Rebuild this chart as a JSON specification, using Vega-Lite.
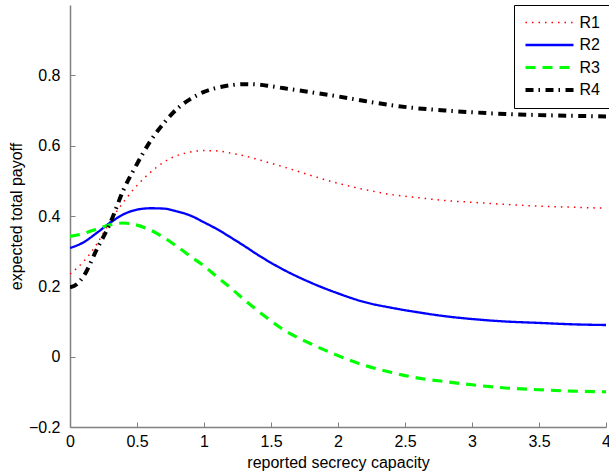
{
  "$schema": "https://vega.github.io/schema/vega-lite/v6.json",
  "width": 536,
  "height": 422,
  "autosize": "none",
  "padding": {"left": 70, "top": 5, "right": 3, "bottom": 48},
  "background": "white",
  "config": {
    "view": {"stroke": null},
    "font": "Liberation Sans",
    "axis": {
      "grid": false,
      "domainColor": "#808080",
      "tickColor": "#808080",
      "domainWidth": 1.5,
      "tickWidth": 1,
      "tickSize": -5,
      "labelColor": "black",
      "labelFontSize": 16,
      "titleFontSize": 16,
      "titleFontWeight": "normal",
      "titleColor": "black",
      "labelFont": "Liberation Sans",
      "titleFont": "Liberation Sans"
    }
  },
  "data": {
    "values": [
      {"s": "R1", "x": 0, "y": 0.235}, {"s": "R1", "x": 0.1, "y": 0.27}, {"s": "R1", "x": 0.2, "y": 0.32}, {"s": "R1", "x": 0.3, "y": 0.385}, {"s": "R1", "x": 0.4, "y": 0.44}, {"s": "R1", "x": 0.5, "y": 0.487}, {"s": "R1", "x": 0.6, "y": 0.524}, {"s": "R1", "x": 0.7, "y": 0.553}, {"s": "R1", "x": 0.8, "y": 0.572}, {"s": "R1", "x": 0.9, "y": 0.582}, {"s": "R1", "x": 1.0, "y": 0.586}, {"s": "R1", "x": 1.1, "y": 0.585}, {"s": "R1", "x": 1.2, "y": 0.579}, {"s": "R1", "x": 1.3, "y": 0.571}, {"s": "R1", "x": 1.4, "y": 0.561}, {"s": "R1", "x": 1.5, "y": 0.55}, {"s": "R1", "x": 1.6, "y": 0.539}, {"s": "R1", "x": 1.8, "y": 0.515}, {"s": "R1", "x": 2.0, "y": 0.493}, {"s": "R1", "x": 2.2, "y": 0.475}, {"s": "R1", "x": 2.4, "y": 0.461}, {"s": "R1", "x": 2.6, "y": 0.452}, {"s": "R1", "x": 2.8, "y": 0.444}, {"s": "R1", "x": 3.0, "y": 0.439}, {"s": "R1", "x": 3.25, "y": 0.433}, {"s": "R1", "x": 3.5, "y": 0.428}, {"s": "R1", "x": 3.75, "y": 0.425}, {"s": "R1", "x": 4.0, "y": 0.422},
      {"s": "R2", "x": 0, "y": 0.309}, {"s": "R2", "x": 0.1, "y": 0.325}, {"s": "R2", "x": 0.2, "y": 0.352}, {"s": "R2", "x": 0.3, "y": 0.381}, {"s": "R2", "x": 0.4, "y": 0.405}, {"s": "R2", "x": 0.5, "y": 0.418}, {"s": "R2", "x": 0.6, "y": 0.422}, {"s": "R2", "x": 0.7, "y": 0.421}, {"s": "R2", "x": 0.8, "y": 0.413}, {"s": "R2", "x": 0.9, "y": 0.401}, {"s": "R2", "x": 1.0, "y": 0.382}, {"s": "R2", "x": 1.1, "y": 0.362}, {"s": "R2", "x": 1.2, "y": 0.339}, {"s": "R2", "x": 1.3, "y": 0.315}, {"s": "R2", "x": 1.4, "y": 0.29}, {"s": "R2", "x": 1.5, "y": 0.267}, {"s": "R2", "x": 1.6, "y": 0.246}, {"s": "R2", "x": 1.8, "y": 0.21}, {"s": "R2", "x": 2.0, "y": 0.18}, {"s": "R2", "x": 2.2, "y": 0.155}, {"s": "R2", "x": 2.4, "y": 0.139}, {"s": "R2", "x": 2.6, "y": 0.126}, {"s": "R2", "x": 2.8, "y": 0.115}, {"s": "R2", "x": 3.0, "y": 0.107}, {"s": "R2", "x": 3.25, "y": 0.1}, {"s": "R2", "x": 3.5, "y": 0.096}, {"s": "R2", "x": 3.75, "y": 0.092}, {"s": "R2", "x": 4.0, "y": 0.09},
      {"s": "R3", "x": 0, "y": 0.342}, {"s": "R3", "x": 0.1, "y": 0.35}, {"s": "R3", "x": 0.2, "y": 0.363}, {"s": "R3", "x": 0.3, "y": 0.375}, {"s": "R3", "x": 0.4, "y": 0.38}, {"s": "R3", "x": 0.5, "y": 0.374}, {"s": "R3", "x": 0.6, "y": 0.36}, {"s": "R3", "x": 0.7, "y": 0.339}, {"s": "R3", "x": 0.8, "y": 0.313}, {"s": "R3", "x": 0.9, "y": 0.285}, {"s": "R3", "x": 1.0, "y": 0.258}, {"s": "R3", "x": 1.1, "y": 0.226}, {"s": "R3", "x": 1.2, "y": 0.195}, {"s": "R3", "x": 1.3, "y": 0.162}, {"s": "R3", "x": 1.4, "y": 0.131}, {"s": "R3", "x": 1.5, "y": 0.102}, {"s": "R3", "x": 1.6, "y": 0.075}, {"s": "R3", "x": 1.8, "y": 0.036}, {"s": "R3", "x": 2.0, "y": 0.003}, {"s": "R3", "x": 2.2, "y": -0.025}, {"s": "R3", "x": 2.4, "y": -0.045}, {"s": "R3", "x": 2.6, "y": -0.061}, {"s": "R3", "x": 2.8, "y": -0.071}, {"s": "R3", "x": 3.0, "y": -0.08}, {"s": "R3", "x": 3.25, "y": -0.089}, {"s": "R3", "x": 3.5, "y": -0.094}, {"s": "R3", "x": 3.75, "y": -0.098}, {"s": "R3", "x": 4.0, "y": -0.1},
      {"s": "R4", "x": 0, "y": 0.197}, {"s": "R4", "x": 0.05, "y": 0.206}, {"s": "R4", "x": 0.1, "y": 0.228}, {"s": "R4", "x": 0.2, "y": 0.305}, {"s": "R4", "x": 0.3, "y": 0.38}, {"s": "R4", "x": 0.4, "y": 0.475}, {"s": "R4", "x": 0.5, "y": 0.548}, {"s": "R4", "x": 0.6, "y": 0.613}, {"s": "R4", "x": 0.7, "y": 0.664}, {"s": "R4", "x": 0.8, "y": 0.705}, {"s": "R4", "x": 0.9, "y": 0.733}, {"s": "R4", "x": 1.0, "y": 0.753}, {"s": "R4", "x": 1.1, "y": 0.765}, {"s": "R4", "x": 1.2, "y": 0.772}, {"s": "R4", "x": 1.3, "y": 0.775}, {"s": "R4", "x": 1.4, "y": 0.774}, {"s": "R4", "x": 1.5, "y": 0.769}, {"s": "R4", "x": 1.6, "y": 0.763}, {"s": "R4", "x": 1.8, "y": 0.752}, {"s": "R4", "x": 2.0, "y": 0.74}, {"s": "R4", "x": 2.2, "y": 0.727}, {"s": "R4", "x": 2.4, "y": 0.715}, {"s": "R4", "x": 2.6, "y": 0.706}, {"s": "R4", "x": 2.8, "y": 0.7}, {"s": "R4", "x": 3.0, "y": 0.695}, {"s": "R4", "x": 3.25, "y": 0.69}, {"s": "R4", "x": 3.5, "y": 0.687}, {"s": "R4", "x": 3.75, "y": 0.685}, {"s": "R4", "x": 4.0, "y": 0.683}
    ]
  },
  "mark": {"type": "line", "interpolate": "monotone", "clip": true},
  "encoding": {
    "x": {
      "field": "x", "type": "quantitative",
      "scale": {"domain": [0, 4], "nice": false, "zero": false},
      "axis": {"values": [0, 0.5, 1, 1.5, 2, 2.5, 3, 3.5, 4], "format": "~g", "labelPadding": 11, "title": "reported secrecy capacity", "titlePadding": 5, "labelFlush": false}
    },
    "y": {
      "field": "y", "type": "quantitative",
      "scale": {"domain": [-0.2, 1.0], "nice": false, "zero": false},
      "axis": {"values": [-0.2, 0, 0.2, 0.4, 0.6, 0.8], "format": "~g", "labelPadding": 15, "title": "expected total payoff", "titlePadding": 4, "labelFlush": false}
    },
    "color": {
      "field": "s", "type": "nominal",
      "scale": {"domain": ["R1", "R2", "R3", "R4"], "range": ["#ff0000", "#0000ff", "#00ff00", "#000000"]},
      "legend": {
        "title": null, "orient": "none", "legendX": 444, "legendY": 0,
        "symbolType": "stroke", "symbolSize": 2304, "symbolStrokeWidth": 3.5,
        "labelFontSize": 16, "labelFont": "Liberation Sans", "labelColor": "black",
        "strokeColor": "black", "fillColor": "white", "padding": 9.5, "rowPadding": 6.5,
        "clipHeight": 16, "labelOffset": 4
      }
    },
    "strokeDash": {
      "field": "s", "type": "nominal",
      "scale": {"domain": ["R1", "R2", "R3", "R4"], "range": [[1.5, 5], [1, 0], [10, 7], [8, 5, 1.5, 5.5]]},
      "legend": {
        "title": null, "orient": "none", "legendX": 444, "legendY": 0,
        "symbolType": "stroke", "symbolSize": 2304, "symbolStrokeWidth": 3.5,
        "labelFontSize": 16, "labelFont": "Liberation Sans", "labelColor": "black",
        "strokeColor": "black", "fillColor": "white", "padding": 9.5, "rowPadding": 6.5,
        "clipHeight": 16, "labelOffset": 4
      }
    },
    "strokeWidth": {
      "field": "s", "type": "nominal",
      "scale": {"domain": ["R1", "R2", "R3", "R4"], "range": [1.5, 4, 4, 4]},
      "legend": null
    }
  }
}
